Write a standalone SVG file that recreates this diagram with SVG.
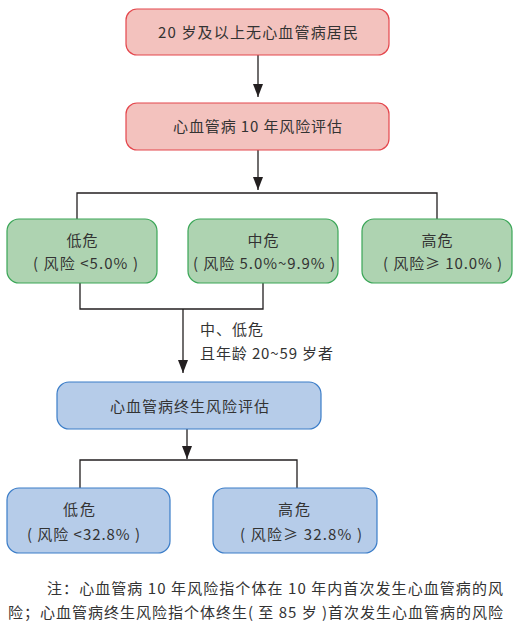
<svg xmlns="http://www.w3.org/2000/svg" width="517" height="631" viewBox="0 0 517 631">
<defs>
<marker id="arr" markerUnits="userSpaceOnUse" markerWidth="14" markerHeight="11" refX="13" refY="5" orient="auto">
<path d="M0,0 L13,5 L0,10 Z" fill="#231f20"/>
</marker>
<style>
text{font-family:"Noto Sans CJK SC","Liberation Sans",sans-serif;font-size:15px;fill:#333;}
.c{text-anchor:middle;}
.red{fill:#f3c2be;stroke:#e4474d;stroke-width:1.2;}
.green{fill:#aed3b1;stroke:#3aa657;stroke-width:1.2;}
.blue{fill:#b6cce9;stroke:#3b7dc8;stroke-width:1.2;}
.ln{fill:none;stroke:#231f20;stroke-width:1.3;}
</style>
</defs>
<rect width="517" height="631" fill="#fff"/>
<g id="connectors">
<path class="ln" d="M258 55 V97" marker-end="url(#arr)"/>
<path class="ln" d="M258 150 V190" marker-end="url(#arr)"/>
<path class="ln" d="M77 219 V193 H437 V219"/>
<path class="ln" d="M80 283 V309 H263 V283"/>
<path class="ln" d="M183 309 V373" marker-end="url(#arr)"/>
<path class="ln" d="M187 429 V459" marker-end="url(#arr)"/>
<path class="ln" d="M80 488 V460 H297 V488"/>
</g>
<g id="n1">
<rect class="red" x="126" y="9" width="263" height="46" rx="11"/>
<text class="c" x="258" y="37.5" font-size="16" textLength="200" lengthAdjust="spacing">20 岁及以上无心血管病居民</text>
</g>
<g id="n2">
<rect class="red" x="126" y="103" width="263" height="47" rx="11"/>
<text class="c" x="257.5" y="132" font-size="16" textLength="169" lengthAdjust="spacing">心血管病 10 年风险评估</text>
</g>
<g id="n3">
<rect class="green" x="7" y="219" width="150" height="64" rx="12"/>
<text class="c" x="82" y="245.5" textLength="31" lengthAdjust="spacing">低危</text>
<text class="c" x="85.5" y="268.5" textLength="105" lengthAdjust="spacing">( 风险 &lt;5.0% )</text>
</g>
<g id="n4">
<rect class="green" x="188" y="219" width="150" height="64" rx="12"/>
<text class="c" x="263" y="245.5" textLength="31" lengthAdjust="spacing">中危</text>
<text class="c" x="264" y="268.5" textLength="142" lengthAdjust="spacing">( 风险 5.0%~9.9% )</text>
</g>
<g id="n5">
<rect class="green" x="362" y="219" width="150" height="64" rx="12"/>
<text class="c" x="437" y="245.5" textLength="31" lengthAdjust="spacing">高危</text>
<text class="c" x="442.5" y="268.5" textLength="119" lengthAdjust="spacing">( 风险≥ 10.0% )</text>
</g>
<g id="label">
<text x="200" y="334.5" textLength="63" lengthAdjust="spacing">中、低危</text>
<text x="200" y="358.5" textLength="133" lengthAdjust="spacing">且年龄 20~59 岁者</text>
</g>
<g id="n6">
<rect class="blue" x="57" y="382" width="264" height="47" rx="12"/>
<text class="c" x="189.5" y="411.5" textLength="159" lengthAdjust="spacing">心血管病终生风险评估</text>
</g>
<g id="n7">
<rect class="blue" x="7" y="488" width="163" height="65" rx="12"/>
<text class="c" x="79" y="514.5" textLength="32" lengthAdjust="spacing">低危</text>
<text class="c" x="83.5" y="539.5" textLength="113" lengthAdjust="spacing">( 风险 &lt;32.8% )</text>
</g>
<g id="n8">
<rect class="blue" x="213" y="488" width="164" height="65" rx="12"/>
<text class="c" x="294" y="514.5" textLength="32" lengthAdjust="spacing">高危</text>
<text class="c" x="301" y="539.5" textLength="122" lengthAdjust="spacing">( 风险≥ 32.8% )</text>
</g>
<g id="note">
<text x="47" y="593.5" textLength="456" lengthAdjust="spacing">注：心血管病 10 年风险指个体在 10 年内首次发生心血管病的风</text>
<text x="8" y="617.5" textLength="495" lengthAdjust="spacing">险；心血管病终生风险指个体终生( 至 85 岁 )首次发生心血管病的风险</text>
</g>
</svg>
